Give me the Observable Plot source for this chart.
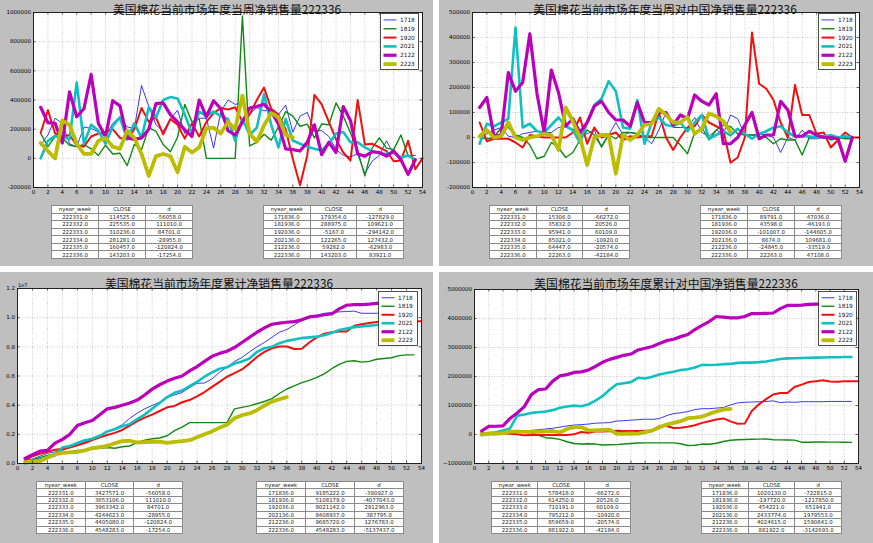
<!DOCTYPE html>
<html><head><meta charset="utf-8">
<script src="https://cdn.jsdelivr.net/npm/d3@7"></script>
<script src="https://cdn.jsdelivr.net/npm/@observablehq/plot@0.6"></script>
<style>
body{margin:0;background:#fff;}
#root{position:relative;width:873px;height:543px;overflow:hidden;background:#fff;font-family:"DejaVu Sans",sans-serif;}
.panel{position:absolute;background:#bfbfbf;}
.title{position:absolute;font-family:"Noto Sans CJK SC",sans-serif;font-size:11.8px;line-height:normal;color:#111;white-space:nowrap;transform:translateX(-50%);}
.chart{position:absolute;}
.legend{position:absolute;}
.offset{position:absolute;font-size:5px;color:#000;}
table.t{position:absolute;border-collapse:collapse;background:#fff;font-family:"DejaVu Sans",sans-serif;font-size:5.4px;color:#222;table-layout:fixed;}
table.t td{border:0.8px solid #8a8a8a;text-align:center;padding:0;line-height:6px;white-space:nowrap;}
</style>
</head><body><div id="root"></div>
<script>
// ---------------- data ----------------
const seriesNames = ["1718","1819","1920","2021","2122","2223"];
const xTicks = d3.range(0, 55, 2);

// Weekly net sales (当周净销售量)
const wk1718 = [91000,160000,275000,240000,100000,80000,215000,205000,180000,150000,240000,285000,215000,205000,500000,355000,230000,185000,270000,330000,170000,230000,275000,275000,70000,320000,400000,370000,380000,300000,350000,325000,335000,300000,365000,179354,290000,315000,190000,190000,150000,60000,20000,10000,30000,-105000,-20000,20000,120000,30000,10000,15000,20000];
const wk1819 = [171000,80000,150000,140000,90000,80000,95000,65000,20000,90000,30000,35000,-50000,95000,60000,210000,185000,95000,45000,145000,370000,250000,270000,0,0,0,0,0,975000,85000,110000,165000,125000,215000,320000,288975,220000,235000,140000,235000,230000,380000,290000,175000,50000,-120000,70000,140000,70000,60000,160000,20000,-15000];
const wk1920 = [175000,330000,170000,150000,160000,90000,80000,150000,170000,180000,200000,140000,130000,200000,345000,250000,280000,165000,270000,230000,135000,240000,150000,250000,310000,345000,335000,350000,250000,300000,400000,485000,340000,300000,200000,-5167,-185000,20000,435000,370000,250000,130000,40000,-15000,400000,95000,100000,75000,50000,-20000,-15000,120000,-75000,0];
const wk2021 = [0,120000,155000,150000,130000,520000,100000,230000,190000,100000,220000,280000,130000,240000,140000,350000,280000,400000,420000,410000,300000,170000,320000,290000,320000,290000,270000,120000,270000,160000,210000,440000,230000,75000,270000,122265,100000,80000,65000,55000,100000,170000,180000,110000,110000,75000,50000,35000,30000,40000,5000,20000,-10000];
const wk2122 = [350000,245000,240000,105000,455000,285000,340000,575000,240000,150000,395000,360000,140000,130000,140000,200000,375000,380000,300000,250000,195000,150000,400000,285000,395000,340000,190000,160000,250000,345000,355000,370000,320000,235000,65000,59282,50000,110000,230000,25000,110000,40000,355000,260000,30000,15000,45000,40000,15000,50000,-10000,-110000,-10000];
const wk2223 = [105000,50000,0,260000,230000,100000,30000,30000,120000,140000,80000,65000,190000,140000,30000,-120000,15000,30000,15000,-95000,80000,40000,75000,205000,210000,170000,250000,200000,430000,170583,114525,225535,310236,281281,160457,143203];

// Weekly net sales to China (当周对中国净销售量)
const cn1718 = [0,15000,30000,40000,5000,0,15000,20000,25000,20000,20000,40000,45000,30000,15000,15000,30000,-40000,10000,60000,10000,20000,15000,0,-25000,30000,100000,40000,40000,40000,80000,20000,5000,30000,15000,89791,75000,10000,10000,15000,10000,0,-60000,0,-10000,30000,-5000,-5000,0,0,0,0,0];
const cn1819 = [0,-5000,0,40000,40000,10000,0,-30000,-85000,-75000,-20000,-40000,-80000,-60000,-10000,30000,10000,-35000,10000,-5000,20000,20000,15000,0,0,0,0,0,-30000,-65000,20000,40000,-10000,30000,50000,43598,15000,10000,10000,5000,0,-25000,-5000,-10000,-10000,-70000,0,5000,5000,-10000,0,-5000,-5000];
const cn1920 = [60000,-15000,-5000,-5000,-5000,-20000,-40000,10000,5000,0,0,0,0,20000,80000,-25000,40000,0,10000,20000,-10000,5000,0,5000,5000,100000,0,-50000,0,40000,45000,90000,60000,45000,30000,-101007,-80000,0,420000,215000,195000,150000,60000,0,210000,90000,90000,15000,20000,-40000,-10000,20000,0,0];
const cn2021 = [-25000,55000,45000,60000,75000,440000,40000,55000,25000,20000,50000,80000,45000,30000,-20000,60000,130000,155000,225000,185000,40000,35000,150000,-25000,60000,80000,50000,45000,60000,25000,60000,90000,-5000,10000,25000,8674,35000,15000,-5000,15000,25000,40000,45000,20000,5000,5000,5000,0,5000,10000,0,5000,0];
const cn2122 = [120000,160000,5000,10000,260000,185000,220000,415000,175000,20000,270000,180000,45000,75000,20000,60000,125000,145000,100000,70000,70000,45000,140000,60000,60000,100000,100000,50000,90000,75000,170000,145000,130000,175000,-25000,-24845,0,50000,100000,-5000,10000,10000,145000,110000,5000,5000,25000,10000,0,0,-5000,-95000,0];
const cn2223 = [5000,30000,0,5000,60000,0,-10000,0,5000,15000,10000,-50000,120000,65000,0,-110000,0,10000,10000,-145000,10000,-10000,10000,50000,55000,115000,90000,60000,60000,81578,15306,35832,95941,85021,64447,22263];

// Cumulative net sales (累计净销售量)
const cu1718 = [100000,300000,500000,700000,800000,900000,1100000,1300000,1500000,1650000,1900000,2200000,2400000,2650000,3100000,3450000,3750000,3980000,4200000,4550000,4700000,4870000,5200000,5500000,5520000,5800000,6250000,6600000,7000000,7270000,7650000,8000000,8300000,8650000,9000000,9185222,9500000,9830000,10000000,10170000,10300000,10350000,10400000,10420000,10450000,10300000,10300000,10300000,10350000,10400000,10400000,10420000,10440000];
const cu1819 = [170000,250000,400000,550000,650000,700000,800000,900000,900000,1000000,1050000,1100000,1050000,1150000,1200000,1450000,1600000,1700000,1750000,1900000,2250000,2500000,2800000,2800000,2800000,2800000,2800000,2800000,3750000,3850000,3950000,4100000,4250000,4450000,4800000,5108179,5330000,5550000,5700000,5900000,6150000,6500000,6800000,7000000,7050000,6950000,7000000,7150000,7200000,7250000,7400000,7450000,7450000];
const cu1920 = [180000,500000,670000,800000,950000,1000000,1100000,1250000,1400000,1600000,1800000,1950000,2100000,2300000,2600000,2900000,3150000,3350000,3600000,3850000,3950000,4200000,4350000,4600000,4900000,5250000,5600000,5950000,6200000,6450000,6850000,7300000,7650000,7900000,8026309,8021142,7850000,7870000,8300000,8650000,8900000,9000000,9050000,9050000,9450000,9550000,9630000,9700000,9750000,9730000,9720000,9800000,9750000,9750000];
const cu2021 = [0,120000,280000,430000,550000,1100000,1200000,1400000,1600000,1700000,1900000,2200000,2350000,2550000,2700000,3050000,3350000,3750000,4150000,4550000,4850000,5000000,5300000,5600000,5950000,6250000,6500000,6600000,6850000,7000000,7200000,7650000,7900000,8000000,8250000,8408937,8500000,8600000,8650000,8700000,8800000,8950000,9150000,9250000,9350000,9400000,9450000,9500000,9500000,9550000,9550000,9570000,9570000];
const cu2122 = [350000,600000,850000,900000,1400000,1650000,2000000,2600000,2800000,2950000,3350000,3750000,3850000,4000000,4150000,4350000,4700000,5100000,5400000,5650000,5850000,6000000,6350000,6650000,7000000,7350000,7550000,7700000,7950000,8300000,8650000,9000000,9300000,9550000,9626438,9685720,9730000,9850000,10050000,10100000,10200000,10250000,10600000,10850000,10900000,10900000,10930000,10980000,11000000,11050000,11050000,10950000,10950000];
const cu2223 = [100000,150000,150000,400000,630000,730000,760000,790000,900000,1050000,1130000,1200000,1390000,1530000,1560000,1440000,1460000,1490000,1500000,1410000,1490000,1530000,1600000,1800000,2000000,2200000,2450000,2650000,3100000,3313046,3427571,3653106,3963342,4244623,4405080,4548283];

// Cumulative net sales to China (累计对中国净销售量)
const cc1718 = [0,15000,45000,85000,90000,100000,115000,140000,165000,190000,215000,255000,295000,325000,340000,360000,390000,400000,410000,465000,475000,495000,510000,530000,520000,550000,650000,720000,750000,790000,860000,890000,890000,910000,930000,1020130,1090000,1110000,1120000,1130000,1140000,1160000,1100000,1120000,1110000,1130000,1130000,1130000,1130000,1140000,1140000,1140000,1140000];
const cc1819 = [0,-5000,0,40000,80000,90000,90000,60000,-30000,-110000,-130000,-170000,-250000,-310000,-330000,-320000,-330000,-360000,-355000,-350000,-330000,-310000,-295000,-290000,-290000,-290000,-290000,-290000,-320000,-380000,-370000,-330000,-335000,-300000,-240000,-197720,-183000,-173000,-163000,-158000,-150000,-180000,-185000,-190000,-195000,-265000,-265000,-258000,-253000,-263000,-263000,-268000,-273000];
const cc1920 = [60000,45000,40000,35000,30000,10000,-30000,-20000,-15000,-15000,-15000,-15000,-15000,5000,85000,60000,100000,100000,110000,130000,120000,125000,125000,130000,140000,290000,290000,225000,230000,270000,320000,400000,460000,515000,555228,454221,370000,375000,810000,1040000,1220000,1380000,1430000,1430000,1640000,1720000,1810000,1840000,1870000,1830000,1820000,1840000,1840000,1840000];
const cc2021 = [-25000,30000,75000,135000,210000,650000,690000,745000,770000,790000,840000,920000,965000,995000,975000,1035000,1165000,1320000,1545000,1730000,1770000,1805000,1955000,1930000,1990000,2070000,2120000,2165000,2225000,2250000,2310000,2400000,2395000,2405000,2425100,2433774,2470000,2485000,2480000,2495000,2520000,2560000,2605000,2625000,2630000,2640000,2645000,2650000,2655000,2665000,2665000,2670000,2670000];
const cc2122 = [120000,280000,285000,295000,555000,740000,960000,1375000,1550000,1570000,1840000,2020000,2065000,2140000,2160000,2220000,2345000,2490000,2590000,2660000,2730000,2775000,2915000,2975000,3035000,3135000,3235000,3285000,3375000,3450000,3620000,3765000,3895000,4070000,4049460,4024615,4020000,4070000,4170000,4170000,4180000,4190000,4340000,4450000,4455000,4460000,4485000,4495000,4495000,4495000,4490000,4395000,4395000];
const cc2223 = [5000,35000,35000,40000,100000,100000,90000,90000,95000,110000,120000,70000,190000,255000,255000,145000,145000,155000,165000,20000,30000,20000,30000,80000,135000,250000,340000,400000,460000,563112,578418,614250,710191,795212,859659,881922];

// Tables
const tblHead = ["nyear_week","CLOSE","d"];
const tWeekLeft = [["222331.0","114525.0","-56058.0"],["222332.0","225535.0","111010.0"],["222333.0","310236.0","84701.0"],["222334.0","281281.0","-28955.0"],["222335.0","160457.0","-120824.0"],["222336.0","143203.0","-17254.0"]];
const tWeekRight = [["171836.0","179354.0","-127829.0"],["181936.0","288975.0","109621.0"],["192036.0","-5167.0","-294142.0"],["202136.0","122265.0","127432.0"],["212236.0","59282.0","-62983.0"],["222336.0","143203.0","83921.0"]];
const tChinaLeft = [["222331.0","15306.0","-66272.0"],["222332.0","35832.0","20526.0"],["222333.0","95941.0","60109.0"],["222334.0","85021.0","-10920.0"],["222335.0","64447.0","-20574.0"],["222336.0","22263.0","-42184.0"]];
const tChinaRight = [["171836.0","89791.0","47036.0"],["181936.0","43598.0","-46193.0"],["192036.0","-101007.0","-144605.0"],["202136.0","8674.0","109681.0"],["212236.0","-24845.0","-33519.0"],["222336.0","22263.0","47108.0"]];
const tCumLeft = [["222331.0","3427571.0","-56058.0"],["222332.0","3653106.0","111010.0"],["222333.0","3963342.0","84701.0"],["222334.0","4244623.0","-28955.0"],["222335.0","4405080.0","-120824.0"],["222336.0","4548283.0","-17254.0"]];
const tCumRight = [["171836.0","9185222.0","-390927.0"],["181936.0","5108179.0","-4077043.0"],["192036.0","8021142.0","2912963.0"],["202136.0","8408937.0","387795.0"],["212236.0","9685720.0","1276783.0"],["222336.0","4548283.0","-5137437.0"]];
const tCcLeft = [["222331.0","578418.0","-66272.0"],["222332.0","614250.0","20526.0"],["222333.0","710191.0","60109.0"],["222334.0","795212.0","-10920.0"],["222335.0","859659.0","-20574.0"],["222336.0","881922.0","-42184.0"]];
const tCcRight = [["171836.0","1020130.0","-722815.0"],["181936.0","-197720.0","-1217850.0"],["192036.0","454221.0","651941.0"],["202136.0","2433774.0","1979553.0"],["212236.0","4024615.0","1590841.0"],["222336.0","881922.0","-3142693.0"]];

// ---------------- styles ----------------
const colors = ["#2222ee","#108a10","#f01010","#10c0c0","#bb00bb","#bcbc00"];
const widths = [0.9, 1.4, 2, 2.6, 3.2, 3.8];

const root = document.getElementById("root");

function addPanel(l, t, w, h) {
  const d = document.createElement("div");
  d.className = "panel";
  Object.assign(d.style, {left: l + "px", top: t + "px", width: w + "px", height: h + "px"});
  root.appendChild(d);
}
function addTitle(text, cx, top) {
  const d = document.createElement("div");
  d.className = "title";
  d.textContent = text;
  d.style.left = cx + "px"; d.style.top = top + "px";
  root.appendChild(d);
}
function addTable(rows, l, t, w, h) {
  const tb = document.createElement("table");
  tb.className = "t";
  Object.assign(tb.style, {left: l + "px", top: t + "px", width: w + "px", height: h + "px"});
  for (const r of [tblHead, ...rows]) {
    const tr = document.createElement("tr");
    for (const c of r) { const td = document.createElement("td"); td.textContent = c; tr.appendChild(td); }
    tb.appendChild(tr);
  }
  root.appendChild(tb);
}
function addLegend(l, t, w, h) {
  const svg = d3.create("svg").attr("class", "legend").attr("width", w).attr("height", h)
    .style("left", l + "px").style("top", t + "px");
  svg.append("rect").attr("x", 0.5).attr("y", 0.5).attr("width", w - 1).attr("height", h - 1)
    .attr("fill", "#fff").attr("stroke", "#222").attr("stroke-width", 0.8);
  const step = (h - 4) / seriesNames.length;
  seriesNames.forEach((s, i) => {
    const y = 2.5 + step * (i + 0.5);
    svg.append("line").attr("x1", 3.5).attr("x2", 16.5).attr("y1", y).attr("y2", y)
      .attr("stroke", colors[i]).attr("stroke-width", widths[i]);
    svg.append("text").attr("x", 20).attr("y", y).attr("dy", "0.35em")
      .attr("font-size", 5.8).attr("font-family", "DejaVu Sans").attr("fill", "#111").text(s);
  });
  root.appendChild(svg.node());
}

function addChart({left, top, width, height, ml, mr, mt, mb, ydomain, yticks, yfmt, series}) {
  const pw = width - ml - mr, ph = height - mt - mb;
  const marks = [
    Plot.frame({fill: "#fff", stroke: null}),
    Plot.gridX(xTicks, {stroke: "#666", strokeOpacity: 0.55, strokeDasharray: "1,1.5", strokeWidth: 0.6}),
    Plot.gridY(yticks, {stroke: "#666", strokeOpacity: 0.55, strokeDasharray: "1,1.5", strokeWidth: 0.6}),
  ];
  series.forEach((vals, i) => {
    const rows = vals.map((v, j) => ({week: j + 1, value: v}));
    marks.push(Plot.line(rows, {x: "week", y: "value", stroke: colors[i], strokeWidth: widths[i], strokeLinejoin: "round"}));
  });
  marks.push(
    Plot.tickX(xTicks, {x: d => d, insetTop: ph - 2.5, stroke: "#000", strokeWidth: 0.6}),
    Plot.tickX(xTicks, {x: d => d, insetBottom: ph - 2.5, stroke: "#000", strokeWidth: 0.6}),
    Plot.tickY(yticks, {y: d => d, insetRight: pw - 2.5, stroke: "#000", strokeWidth: 0.6}),
    Plot.tickY(yticks, {y: d => d, insetLeft: pw - 2.5, stroke: "#000", strokeWidth: 0.6}),
    Plot.axisX(xTicks, {tickSize: 0, tickPadding: 2.5, label: null, fontSize: 5.5}),
    Plot.axisY(yticks, {tickSize: 0, tickPadding: 2.5, label: null, tickFormat: yfmt, fontSize: 5.5}),
    Plot.frame({stroke: "#111", strokeWidth: 0.9})
  );
  const p = Plot.plot({
    width, height, marginLeft: ml, marginRight: mr, marginTop: mt, marginBottom: mb,
    x: {domain: [0, 54]},
    y: {domain: ydomain},
    style: {background: "transparent", fontFamily: "DejaVu Sans", fontSize: "5.5px", color: "#000", overflow: "visible"},
    marks
  });
  p.classList.add("chart");
  p.style.left = left + "px"; p.style.top = top + "px";
  root.appendChild(p);
}

// panels
addPanel(0, 0, 433, 266);
addPanel(439, 0, 434, 266);
addPanel(0, 272, 433, 271);
addPanel(439, 272, 434, 271);

// top-left: weekly
addChart({left: 0, top: 0, width: 436, height: 200, ml: 33, mr: 14, mt: 12, mb: 13,
  ydomain: [-200000, 1000000], yticks: d3.range(-200000, 1000001, 200000), yfmt: d => String(d),
  series: [wk1718, wk1819, wk1920, wk2021, wk2122, wk2223]});
addTitle("美国棉花当前市场年度当周净销售量222336", 227, 0);
addLegend(380, 13, 39, 57);
addTable(tWeekLeft, 51, 205, 142, 54);
addTable(tWeekRight, 263, 205, 141, 54);

// top-right: weekly to China
addChart({left: 436, top: 0, width: 437, height: 200, ml: 36, mr: 14, mt: 12, mb: 13,
  ydomain: [-200000, 500000], yticks: d3.range(-200000, 500001, 100000), yfmt: d => String(d),
  series: [cn1718, cn1819, cn1920, cn2021, cn2122, cn2223]});
addTitle("美国棉花当前市场年度当周对中国净销售量222336", 665, 0);
addLegend(818, 13, 38, 57);
addTable(tChinaLeft, 489, 205, 141, 54);
addTable(tChinaRight, 700, 205, 142, 54);

// bottom-left: cumulative
addChart({left: 0, top: 276, width: 436, height: 200, ml: 17, mr: 15, mt: 12, mb: 13,
  ydomain: [0, 12000000], yticks: d3.range(0, 12000001, 2000000), yfmt: d => (d / 1e7).toFixed(1),
  series: [cu1718, cu1819, cu1920, cu2021, cu2122, cu2223]});
addTitle("美国棉花当前市场年度累计净销售量222336", 219, 273.5);
{ const o = document.createElement("div"); o.className = "offset"; o.textContent = "1e7";
  Object.assign(o.style, {left: "18px", top: "282px"}); root.appendChild(o); }
addLegend(378, 291, 40, 55);
addTable(tCumLeft, 36, 481, 147, 53);
addTable(tCumRight, 256, 481, 148, 53);

// bottom-right: cumulative to China
addChart({left: 436, top: 277, width: 437, height: 199, ml: 38, mr: 15, mt: 12, mb: 13,
  ydomain: [-1000000, 5000000], yticks: d3.range(-1000000, 5000001, 1000000), yfmt: d => String(d).replace("-", "\u2212"),
  series: [cc1718, cc1819, cc1920, cc2021, cc2122, cc2223]});
addTitle("美国棉花当前市场年度累计对中国净销售量222336", 666, 273.5);
addLegend(818, 291, 39, 55);
addTable(tCcLeft, 491, 481, 140, 53);
addTable(tCcRight, 701, 481, 141, 53);
</script></body></html>
